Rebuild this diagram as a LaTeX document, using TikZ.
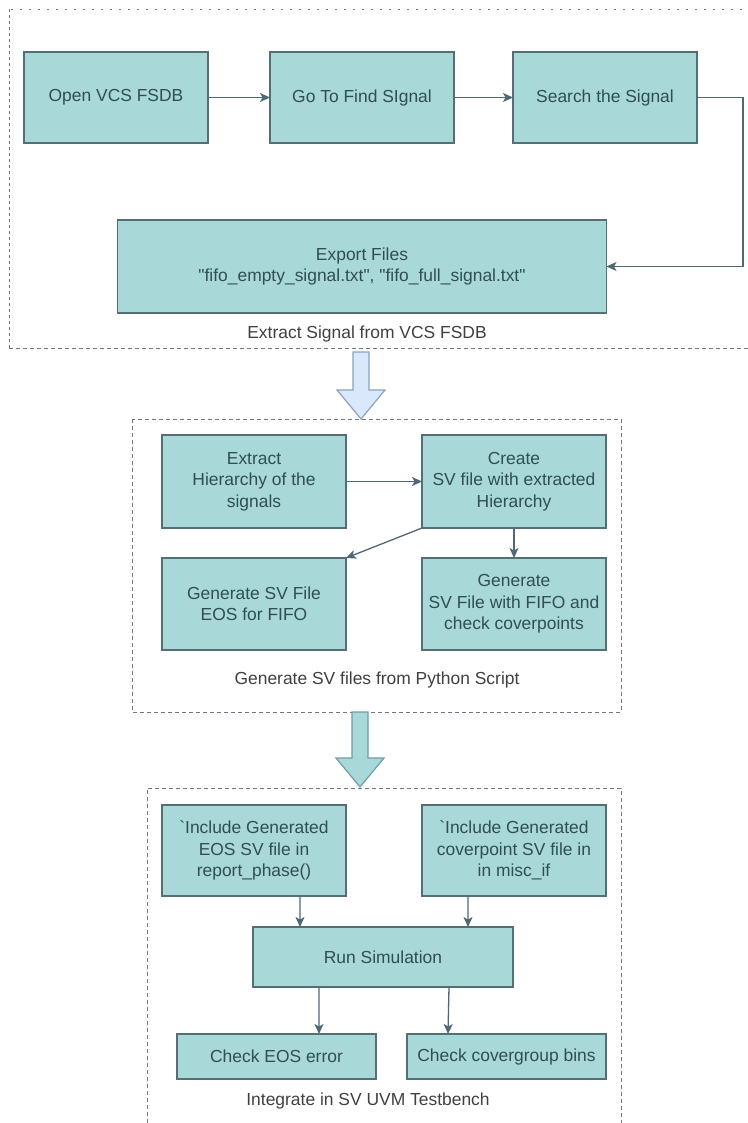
\documentclass[tikz,border=0pt]{standalone}
\usepackage{fontspec}
\setmainfont{Liberation Sans}
\usetikzlibrary{arrows.meta, positioning}

\definecolor{boxfill}{RGB}{168,216,216}
\definecolor{boxline}{RGB}{84,112,118}
\definecolor{boxtext}{RGB}{48,78,84}
\definecolor{flowline}{RGB}{78,104,116}
\definecolor{groupline}{RGB}{112,122,132}
\definecolor{paleblue}{RGB}{218,232,252}
\definecolor{paleedge}{RGB}{140,162,192}
\definecolor{tealedge}{RGB}{110,158,168}

\begin{document}
\begin{tikzpicture}[
					x=1bp, y=-1bp,
					box/.style={rectangle, minimum width=184bp, minimum height=91bp, align=center, draw=boxline, fill=boxfill, line width=1.4bp, text=boxtext, inner xsep=0pt, outer sep=0pt, font=\fontsize{17.5}{21.5}\selectfont},
					caption/.style={text=black!75, font=\fontsize{17.5}{21.5}\selectfont},
					group/.style={draw=groupline, line width=1bp, dash pattern=on 4bp off 3bp},
					arrow/.style={-{Stealth[length=10bp, width=9bp, inset=2.5bp]}, draw=flowline, line width=1.3bp},
					bigarrow/.style={line width=1.2bp, line join=miter}
					]
					\useasboundingbox (0,0) rectangle (748,1123);
					
					% Extract Signal from VCS FSDB
					\node (open) [box] at (116,97.5) {Open VCS FSDB};
					\node (goto) [box, right=62bp of open] {Go To Find SIgnal};
					\node (search) [box, right=59bp of goto] {Search the Signal};
					\node (export) [box, minimum width=489bp, minimum height=93bp, below=77bp of goto] {Export Files\\\textquotedbl fifo\_empty\_signal.txt\textquotedbl, \textquotedbl fifo\_full\_signal.txt\textquotedbl};
					\node (cap1) [caption] at (367,334) {Extract Signal from VCS FSDB};
					
					\draw [group, dash pattern=on 2bp off 7bp] (760,9) -- (9,9);
					\draw [group, dash pattern=on 3bp off 3bp] (9,9) -- (9,348);
					\draw [group] (9,348) -- (760,348);
					
					\draw [arrow] (open) -- (goto);
					\draw [arrow] (goto) -- (search);
					\draw [arrow] (search.east) -- ++(46,0) |- (export.east);
					
					\draw [bigarrow, fill=paleblue, draw=paleedge] (353,352) -- (369,352) -- (369,390) -- (385,390) -- (361,419) -- (337,390) -- (353,390) -- cycle;
					
					% Generate SV files from Python Script
					\node (hier) [box, minimum height=93bp] at (254,481.5) {Extract\\Hierarchy of the\\signals};
					\node (create) [box, minimum height=93bp, right=76bp of hier] {Create\\SV file with extracted\\Hierarchy};
					\node (geneos) [box, minimum height=92bp, below=30bp of hier] {Generate SV File\\EOS for FIFO};
					\node (genfifo) [box, minimum height=92bp, below=30bp of create] {Generate\\SV File with FIFO and\\check coverpoints};
					\node (cap2) [caption] at (377,680) {Generate SV files from Python Script};
					
					\draw [group] (132,419) rectangle (621,712);
					
					\draw [arrow] (hier) -- (create);
					\draw [arrow] (create.south west) -- (geneos.north east);
					\draw [arrow] (create) -- (genfifo);
					
					\draw [bigarrow, fill=boxfill, draw=tealedge] (352,712) -- (368,712) -- (368,758) -- (384,758) -- (360,787) -- (336,758) -- (352,758) -- cycle;
					
					% Integrate in SV UVM Testbench
					\node (inceos) [box] at (254,850.5) {\textasciigrave Include Generated\\EOS SV file in\\report\_phase()};
					\node (inccov) [box, right=76bp of inceos] {\textasciigrave Include Generated\\coverpoint SV file in\\in misc\_if};
					\node (run) [box, minimum width=260bp, minimum height=60bp] at (383,957) {Run Simulation};
					\node (chkeos) [box, minimum width=199bp, minimum height=45bp] at (276.5,1056.5) {Check EOS error};
					\node (chkcov) [box, minimum width=199bp, minimum height=45bp, right=31bp of chkeos] {Check covergroup bins};
					\node (cap3) [caption] at (368,1101) {Integrate in SV UVM Testbench};
					
					\draw [group] (147,1130) -- (147,788) -- (621,788) -- (621,1130);
					
					\draw [arrow] ([xshift=46bp]inceos.south) -- ([xshift=-83bp]run.north);
					\draw [arrow] ([xshift=-46bp]inccov.south) -- ([xshift=85bp]run.north);
					\draw [arrow] ([xshift=-64bp]run.south) -- ([xshift=42.5bp]chkeos.north);
					\draw [arrow] ([xshift=66bp]run.south) -- ([xshift=-58.5bp]chkcov.north);
				\end{tikzpicture}
\end{document}
